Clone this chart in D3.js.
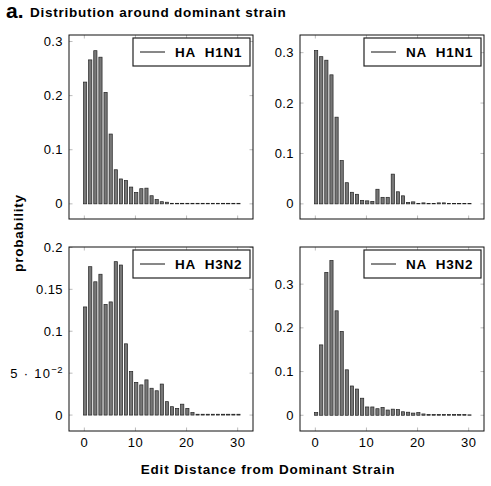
<!DOCTYPE html>
<html>
<head>
<meta charset="utf-8">
<script src="https://cdn.jsdelivr.net/npm/d3@7"></script>
<style>
  body { margin: 0; background: #fff; }
  text { font-family: "Liberation Sans", Arial, Helvetica, sans-serif; }
</style>
</head>
<body>
<div id="chart"></div>
<script>
// edit distance 0..30
var distances = [0,1,2,3,4,5,6,7,8,9,10,11,12,13,14,15,16,17,18,19,20,21,22,23,24,25,26,27,28,29,30];

var haH1N1 = [0.225,0.266,0.283,0.271,0.206,0.129,0.063,0.046,0.043,0.031,0.021,0.028,0.029,0.015,0.008,0.004,0.003,
  0.001,0.001,0.001,0.001,0.001,0.001,0.001,0.001,0.001,0.001,0.001,0.001,0.001,0.001];
var naH1N1 = [0.304,0.292,0.285,0.256,0.172,0.086,0.042,0.023,0.019,0.007,0.006,0.005,0.029,0.013,0.013,0.059,0.024,
  0.016,0.003,0.004,0.001,0.002,0.001,0.001,0.002,0.002,0.001,0.001,0.001,0.001,0.001];
var haH3N2 = [0.129,0.177,0.159,0.168,0.132,0.135,0.183,0.179,0.085,0.052,0.039,0.036,0.042,0.032,0.029,0.037,0.016,
  0.010,0.008,0.013,0.008,0.003,0.001,0.001,0.001,0.001,0.001,0.001,0.001,0.001,0.001];
var naH3N2 = [0.006,0.161,0.327,0.354,0.239,0.192,0.104,0.067,0.060,0.039,0.019,0.019,0.015,0.018,0.012,0.014,0.013,
  0.008,0.007,0.005,0.006,0.003,0.002,0.002,0.002,0.002,0.002,0.002,0.002,0.002,0.001];

var names = ["HA  H1N1", "NA  H1N1", "HA  H3N2", "NA  H3N2"];
var series = [haH1N1, naH1N1, haH3N2, naH3N2];
var xTicks = [0, 10, 20, 30];
var yTicks = [[0, 0.1, 0.2, 0.3], [0, 0.1, 0.2, 0.3], [0, 0.05, 0.1, 0.15, 0.2], [0, 0.1, 0.2, 0.3]];
var yDomains = [[-0.028, 0.312], [-0.030, 0.335], [-0.019, 0.2005], [-0.036, 0.385]];

var W = 491, H = 486;
var svg = d3.select("#chart").append("svg")
    .attr("width", W)
    .attr("height", H);

// panel boxes
var boxX = [69, 300], boxY = [35, 247], size = 184;

// title
svg.append("text")
    .attr("x", 6).attr("y", 18)
    .attr("font-size", "21px").attr("font-weight", "bold")
    .text("a.");
svg.append("text")
    .attr("x", 30).attr("y", 17)
    .attr("font-size", "13.5px").attr("font-weight", "bold")
    .attr("letter-spacing", "0.75px")
    .text("Distribution around dominant strain");

series.forEach(function(vals, i) {
  var left = boxX[i % 2], top = boxY[Math.floor(i / 2)];
  var g = svg.append("g").attr("transform", "translate(" + left + "," + top + ")");

  var x = d3.scaleLinear().domain([-3, 33]).range([0, size]);
  var y = d3.scaleLinear().domain(yDomains[i]).range([size, 0]);

  // inward tick marks on all sides
  var tk = 3.5, tickCol = "#aaa";
  xTicks.forEach(function(t) {
    g.append("line").attr("x1", x(t)).attr("x2", x(t)).attr("y1", size).attr("y2", size - tk)
      .attr("stroke", tickCol).attr("stroke-width", 0.8);
    g.append("line").attr("x1", x(t)).attr("x2", x(t)).attr("y1", 0).attr("y2", tk)
      .attr("stroke", tickCol).attr("stroke-width", 0.8);
  });
  yTicks[i].forEach(function(t) {
    g.append("line").attr("x1", 0).attr("x2", tk).attr("y1", y(t)).attr("y2", y(t))
      .attr("stroke", tickCol).attr("stroke-width", 0.8);
    g.append("line").attr("x1", size).attr("x2", size - tk).attr("y1", y(t)).attr("y2", y(t))
      .attr("stroke", tickCol).attr("stroke-width", 0.8);
  });

  // bars
  var bw = 3.2;
  g.append("g").selectAll("rect")
    .data(vals)
    .enter()
    .append("rect")
      .attr("x", function(d, j) { return x(distances[j]) - bw / 2 + 0.8; })
      .attr("y", function(d) { return y(d); })
      .attr("width", bw)
      .attr("height", function(d) { return y(0) - y(d); })
      .attr("fill", "#777")
      .attr("stroke", "#222")
      .attr("stroke-width", 0.7);

  // box
  g.append("rect")
    .attr("width", size).attr("height", size)
    .attr("fill", "none").attr("stroke", "#111").attr("stroke-width", 1);

  // y tick labels
  yTicks[i].forEach(function(t) {
    var lab = g.append("text")
      .attr("x", -6).attr("y", y(t) + 4.5)
      .attr("text-anchor", "end")
      .attr("font-size", "13px")
      .attr("letter-spacing", "0.4px");
    if (t === 0.05) {
      lab.style("white-space", "pre");
      lab.append("tspan").attr("letter-spacing", "1.3px").text("5 \u00b7 10");
      lab.append("tspan").attr("dy", -5).attr("font-size", "9.5px").text("\u22122");
    } else {
      lab.text(t);
    }
  });

  // x tick labels on bottom row
  if (i >= 2) {
    xTicks.forEach(function(t) {
      g.append("text")
        .attr("x", x(t)).attr("y", size + 16)
        .attr("text-anchor", "middle")
        .attr("font-size", "13px")
        .attr("letter-spacing", "0.4px")
        .text(t);
    });
  }

  // legend
  var lw = 117, lh = 28;
  var lg = g.append("g").attr("transform", "translate(" + (size - 3 - lw) + ",3)");
  lg.append("rect").attr("width", lw).attr("height", lh)
    .attr("fill", "#fff").attr("stroke", "#222").attr("stroke-width", 1.2);
  lg.append("line").attr("x1", 7).attr("x2", 32).attr("y1", lh / 2).attr("y2", lh / 2)
    .attr("stroke", "#111").attr("stroke-width", 1);
  lg.append("text")
    .attr("x", 42).attr("y", lh / 2 + 5)
    .attr("font-size", "13.5px").attr("font-weight", "bold")
    .attr("letter-spacing", "0.8px")
    .style("white-space", "pre")
    .text(names[i]);
});

// axis titles
svg.append("text")
    .attr("transform", "translate(23,233) rotate(-90)")
    .attr("text-anchor", "middle")
    .attr("font-size", "13.5px").attr("font-weight", "bold")
    .attr("letter-spacing", "0.8px")
    .text("probability");

svg.append("text")
    .attr("x", 268).attr("y", 474)
    .attr("text-anchor", "middle")
    .attr("font-size", "13.5px").attr("font-weight", "bold")
    .attr("letter-spacing", "0.8px")
    .text("Edit Distance from Dominant Strain");
</script>
</body>
</html>
